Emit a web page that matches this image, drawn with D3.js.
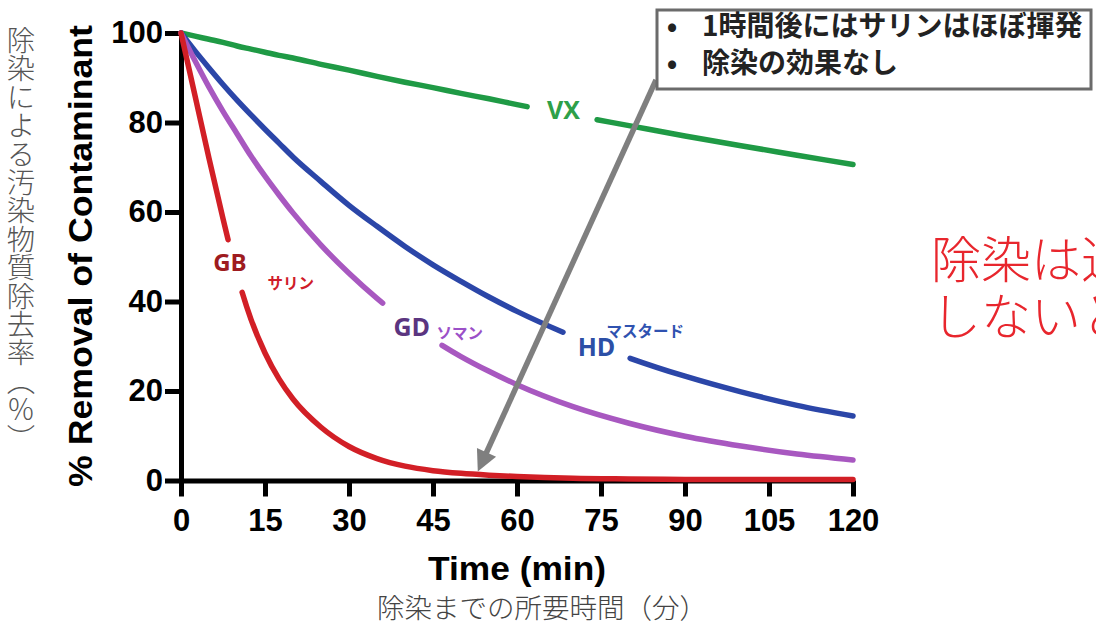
<!DOCTYPE html>
<html><head><meta charset="utf-8">
<script src="https://cdn.jsdelivr.net/npm/d3@7"></script>
<style>body{margin:0;background:#fff} svg{display:block}</style>
</head><body><svg id="c" width="1096" height="626"></svg>
<script>
// ---- data ----
const times    = [0,2.5,5,7.5,10,12.5,15,17.5,20,25,30,35,40,45,50,55,60,70,80,90,100,110,120];
const vxValues = [100,99.3,98.6,97.9,97.1,96.4,95.7,95.0,94.4,93.0,91.7,90.3,89.0,87.8,86.5,85.3,84.0,81.6,79.3,77.0,74.8,72.7,70.6];
const hdValues = [100,96,92.2,88.5,85,81.7,78.5,75.4,72.3,66.8,61.5,56.8,52.3,48.2,44.5,41.0,37.8,32.2,27.4,23.3,19.8,16.8,14.4];
const gdValues = [100,93.8,87.9,82.5,77.5,72.5,68.0,63.8,59.8,52.6,46.3,40.7,35.8,31.5,27.7,24.4,21.4,16.5,12.8,9.9,7.7,5.9,4.6];
const gbValues = [100,86,72,58.5,46,36,28.5,22.7,18.2,11.9,7.6,4.9,3.2,2.2,1.6,1.2,0.9,0.5,0.35,0.25,0.2,0.2,0.2];
const xTicks = [0,15,30,45,60,75,90,105,120];
const yTicks = [0,20,40,60,80,100];
const seriesNames  = ["VX","HD","GD","GB"];
const seriesNotes  = ["","マスタード","ソマン","サリン"];
// label gaps along the curves (minutes)
const gapStart = [61.8,68.2,36.0,8.4];
const gapEnd   = [74.3,80.2,46.6,10.9];

const W=1096,H=626;
const svg=d3.select("#c");
svg.append("rect").attr("width",W).attr("height",H).attr("fill","#fff");
const x=d3.scaleLinear().domain([0,120]).range([181,853]);
const y=d3.scaleLinear().domain([0,100]).range([480.5,33]);

const latin='"Liberation Sans", Arial, Helvetica, sans-serif';
const cjk='"Noto Sans CJK JP", "Noto Sans CJK SC", sans-serif';

// axes
const gx=svg.append("g").attr("transform",`translate(0,${y(0)})`)
  .call(d3.axisBottom(x).tickValues(xTicks).tickSize(16).tickSizeOuter(0).tickPadding(12));
const gy=svg.append("g").attr("transform",`translate(${x(0)},0)`)
  .call(d3.axisLeft(y).tickValues(yTicks).tickSize(16).tickSizeOuter(0).tickPadding(2));
[gx,gy].forEach(g=>{
  g.select(".domain").attr("stroke","#000").attr("stroke-width",5);
  g.selectAll(".tick line").attr("stroke","#000").attr("stroke-width",5);
  g.selectAll(".tick text").attr("fill","#000").style("font-family",latin)
    .style("font-weight","bold").style("font-size","31px");
});

// series
const series=[
  {name:seriesNames[0],note:seriesNotes[0],values:vxValues,color:"#1f9a45",gap:[gapStart[0],gapEnd[0]]},
  {name:seriesNames[1],note:seriesNotes[1],values:hdValues,color:"#2b46a8",gap:[gapStart[1],gapEnd[1]]},
  {name:seriesNames[2],note:seriesNotes[2],values:gdValues,color:"#a858c0",gap:[gapStart[2],gapEnd[2]]},
  {name:seriesNames[3],note:seriesNotes[3],values:gbValues,color:"#d21f26",gap:[gapStart[3],gapEnd[3]]}
];
const line=d3.line().x((d,i)=>x(times[i])).y(d=>y(d)).curve(d3.curveMonotoneX);
series.forEach(s=>{
  const p=svg.append("path").attr("d",line(s.values)).attr("fill","none")
    .attr("stroke",s.color).attr("stroke-width",5.5).attr("stroke-linecap","round");
  const node=p.node(),L=node.getTotalLength();
  const lenAtX=xt=>{let lo=0,hi=L;for(let k=0;k<40;k++){const m=(lo+hi)/2;if(node.getPointAtLength(m).x<xt)lo=m;else hi=m;}return lo;};
  const l0=lenAtX(x(s.gap[0])),l1=lenAtX(x(s.gap[1]));
  p.attr("stroke-dasharray",`${l0} ${l1-l0} ${L}`);
});

// series labels (anchored in data units)
const labels=[
  {text:"VX",t:68.3,v:82.7,size:25,color:"#2ea049",font:'"Open Sans", sans-serif'},
  {text:"HD",t:74.2,v:29.75,size:25,color:"#2c4fa6",font:'"Open Sans", sans-serif'},
  {text:"マスタード",t:82.9,v:33.3,size:15.5,color:"#2f52b0",font:cjk},
  {text:"GD",t:41.2,v:34.2,size:25,color:"#5b3580",font:'"Open Sans", sans-serif'},
  {text:"ソマン",t:49.8,v:33.0,size:15.5,color:"#9b50c8",font:cjk},
  {text:"GB",t:8.75,v:48.7,size:24,color:"#9e1b20",font:'"Open Sans", sans-serif'},
  {text:"サリン",t:19.6,v:44.2,size:15.5,color:"#d01c2a",font:cjk}
];
svg.append("g").selectAll("text").data(labels).join("text")
  .attr("x",d=>x(d.t)).attr("y",d=>y(d.v)).attr("dy",d=>d.font===cjk?"0.38em":"0.36em")
  .attr("text-anchor","middle").attr("fill",d=>d.color)
  .style("font-family",d=>d.font).style("font-weight","bold").style("font-size",d=>d.size+"px")
  .text(d=>d.text);

// axis titles
svg.append("text").attr("transform","translate(92,256) rotate(-90)")
  .attr("text-anchor","middle").attr("textLength",462).attr("lengthAdjust","spacingAndGlyphs")
  .style("font-family",latin).style("font-weight","bold").style("font-size","33px").attr("fill","#000")
  .text("% Removal of Contaminant");
svg.append("text").attr("x",(x(0)+x(120))/2).attr("y",580).attr("text-anchor","middle")
  .attr("textLength",178).attr("lengthAdjust","spacingAndGlyphs")
  .style("font-family",latin).style("font-weight","bold").style("font-size","34px").attr("fill","#000")
  .text("Time (min)");
svg.append("text").attr("x",542).attr("y",608).attr("dy","0.38em").attr("text-anchor","middle")
  .style("font-family",cjk).style("font-weight","300").style("font-size","27.5px").attr("fill","#444")
  .text("除染までの所要時間（分）");
svg.append("text").attr("x",21).attr("y",26).attr("writing-mode","vertical-rl")
  .style("font-family",cjk).style("font-weight","300").style("font-size","28.4px").attr("fill","#555")
  .text("除染による汚染物質除去率（％）");

// arrow
const ax0=656,ay0=80,ax1=x(53),ay1=y(2);
const dx=ax1-ax0,dy=ay1-ay0,len=Math.hypot(dx,dy),ux=dx/len,uy=dy/len;
const headL=21,headW=10.5;
const bx=ax1-ux*headL,by=ay1-uy*headL;
svg.append("line").attr("x1",ax0).attr("y1",ay0).attr("x2",bx+ux*2).attr("y2",by+uy*2)
  .attr("stroke","#7f7f7f").attr("stroke-width",5.5);
svg.append("path").attr("fill","#7f7f7f")
  .attr("d",`M${ax1},${ay1}L${bx-uy*headW},${by+ux*headW}L${bx+uy*headW},${by-ux*headW}Z`);

// note box
svg.append("rect").attr("x",657).attr("y",10).attr("width",434).attr("height",79)
  .attr("fill","#fff").attr("stroke","#6b6b6b").attr("stroke-width",3);
const notes=["1時間後にはサリンはほぼ揮発","除染の効果なし"];
const ng=svg.append("g").style("font-family",cjk).style("font-weight","bold").style("font-size","28px").attr("fill","#222");
notes.forEach((t,i)=>{
  const cy=25+i*37.5;
  ng.append("text").attr("x",672).attr("y",cy).attr("dy","0.38em").attr("text-anchor","middle").text("•");
  ng.append("text").attr("x",702).attr("y",cy).attr("dy","0.38em").text(t);
});

// red side message (cut by the page edge, as in the reference)
const msg=["除染は速やかに","しないと意味がない"];
svg.append("g").style("font-family",cjk).style("font-weight","300").style("font-size","50px").attr("fill","#e8262d")
  .selectAll("text").data(msg).join("text")
  .attr("x",931).attr("y",(d,i)=>259+i*57).attr("dy","0.38em").text(d=>d);
</script></body></html>
